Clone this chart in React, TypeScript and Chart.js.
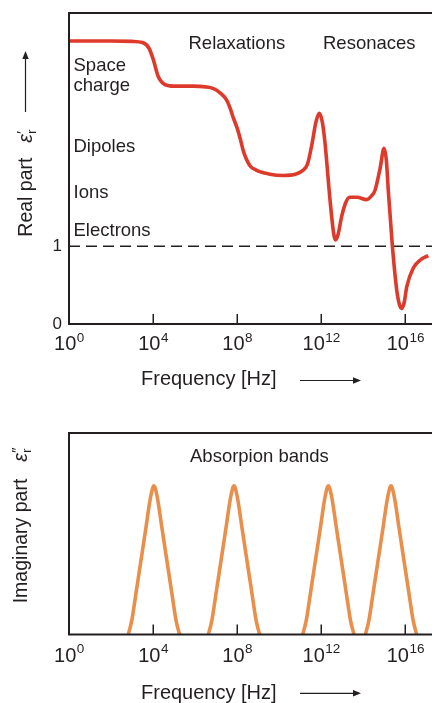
import React, { useEffect, useRef } from "react";
import { Chart, registerables } from "chart.js";

Chart.register(...registerables);

// ---------- data ----------
// x values are log10(frequency / Hz)
const X_MIN = 0;
const X_MAX = 17.27;
const xTickExponents = [0, 4, 8, 12, 16];
const realYTicks = [0, 1];
const REAL_Y_MAX = 4;
const IMAG_Y_MAX = 1;

const realLogF = [
  0, 1, 2, 3, 3.5, 3.8, 4.0, 4.25, 4.57, 5.0, 5.9, 6.5, 6.85, 7.2, 7.5, 7.66, 7.82, 8.0, 8.15, 8.3,
  8.6, 8.9, 9.5, 10.2, 10.8, 11.15, 11.35, 11.55, 11.75, 11.91, 12.05, 12.18, 12.42, 12.6, 12.69,
  12.8, 12.97, 13.15, 13.35, 13.7, 14.16, 14.4, 14.56, 14.8, 14.99, 15.1, 15.19, 15.38, 15.59,
  15.72, 15.83, 15.95, 16.07, 16.38, 16.7, 17.09,
];
const realEps = [
  3.64, 3.64, 3.64, 3.635, 3.62, 3.55, 3.41, 3.18, 3.08, 3.06, 3.06, 3.05, 3.03, 2.97, 2.88, 2.78,
  2.65, 2.52, 2.38, 2.22, 2.04, 1.98, 1.93, 1.91, 1.93, 1.98, 2.06, 2.3, 2.6, 2.71, 2.6, 2.33, 1.59,
  1.15, 1.08, 1.15, 1.38, 1.55, 1.63, 1.63, 1.6, 1.65, 1.72, 2.0, 2.26, 2.1, 1.72, 1.02, 0.44, 0.25,
  0.2, 0.28, 0.48, 0.72, 0.82, 0.88,
];
const unityLevel = 1;

const peakCenters = [4.04, 7.85, 12.34, 15.32];
const peakOffsets = [
  -1.22, -1.06, -0.86, -0.62, -0.38, -0.19, -0.09, -0.04, 0, 0.04, 0.09, 0.19, 0.38, 0.62, 0.86, 1.06, 1.22,
];
const peakHeights = [
  0, 0.066, 0.2, 0.365, 0.53, 0.664, 0.715, 0.732, 0.738, 0.732, 0.715, 0.664, 0.53, 0.365, 0.2, 0.066, 0,
];

const realLabels = ["Space", "charge", "Dipoles", "Ions", "Electrons"];
const regionLabels = ["Relaxations", "Resonaces"];
const imagLabel = "Absorpion bands";
const xTitle = "Frequency [Hz]";

// ---------- styles ----------
const FONT = '"Liberation Sans", Arial, Helvetica, sans-serif';
const INK = "#231f20";
const RED = "#de3a2b";
const ORANGE = "#e98f4b";

function arrowRight(ctx: CanvasRenderingContext2D, x0: number, x1: number, y: number) {
  ctx.save();
  ctx.strokeStyle = INK;
  ctx.fillStyle = INK;
  ctx.lineWidth = 1.2;
  ctx.beginPath();
  ctx.moveTo(x0, y);
  ctx.lineTo(x1 - 6, y);
  ctx.stroke();
  ctx.beginPath();
  ctx.moveTo(x1, y);
  ctx.lineTo(x1 - 8, y - 3.2);
  ctx.lineTo(x1 - 8, y + 3.2);
  ctx.closePath();
  ctx.fill();
  ctx.restore();
}

function arrowUp(ctx: CanvasRenderingContext2D, x: number, y0: number, y1: number) {
  ctx.save();
  ctx.strokeStyle = INK;
  ctx.fillStyle = INK;
  ctx.lineWidth = 1.2;
  ctx.beginPath();
  ctx.moveTo(x, y0);
  ctx.lineTo(x, y1 + 6);
  ctx.stroke();
  ctx.beginPath();
  ctx.moveTo(x, y1);
  ctx.lineTo(x - 3.2, y1 + 8);
  ctx.lineTo(x + 3.2, y1 + 8);
  ctx.closePath();
  ctx.fill();
  ctx.restore();
}

function drawFrame(chart: any) {
  const ctx: CanvasRenderingContext2D = chart.ctx;
  const a = chart.chartArea;
  ctx.save();
  ctx.strokeStyle = INK;
  ctx.lineWidth = 2;
  ctx.beginPath();
  ctx.moveTo(chart.width, a.top);
  ctx.lineTo(a.left, a.top);
  ctx.lineTo(a.left, a.bottom);
  ctx.lineTo(chart.width, a.bottom);
  ctx.stroke();
  // inward ticks
  ctx.lineWidth = 1.5;
  const xs = chart.scales.x;
  xTickExponents.forEach((t) => {
    if (t === 0) return;
    const px = Math.round(xs.getPixelForValue(t)) + 0.25;
    ctx.beginPath();
    ctx.moveTo(px, a.bottom);
    ctx.lineTo(px, a.bottom - 10);
    ctx.stroke();
  });
  ctx.restore();
}

function drawXTickLabels(chart: any, baseline: number) {
  const ctx: CanvasRenderingContext2D = chart.ctx;
  const xs = chart.scales.x;
  ctx.save();
  ctx.fillStyle = INK;
  ctx.textAlign = "left";
  ctx.textBaseline = "alphabetic";
  xTickExponents.forEach((t) => {
    const px = xs.getPixelForValue(t);
    ctx.font = `20px ${FONT}`;
    const w1 = ctx.measureText("10").width;
    ctx.font = `13.5px ${FONT}`;
    const sup = String(t);
    const w2 = ctx.measureText(sup).width;
    const left = px - (w1 + w2) / 2;
    ctx.font = `20px ${FONT}`;
    ctx.fillText("10", left, baseline);
    ctx.font = `13.5px ${FONT}`;
    ctx.fillText(sup, left + w1 + 0.5, baseline - 8.5);
  });
  ctx.restore();
}

function drawXTitle(chart: any, baseline: number, arrowY: number) {
  const ctx: CanvasRenderingContext2D = chart.ctx;
  ctx.save();
  ctx.fillStyle = INK;
  ctx.font = `20px ${FONT}`;
  ctx.textAlign = "left";
  ctx.textBaseline = "alphabetic";
  ctx.fillText(xTitle, 141, baseline);
  ctx.restore();
  arrowRight(ctx, 300, 361, arrowY);
}

function drawYTitle(
  ctx: CanvasRenderingContext2D,
  x: number,
  y: number,
  text: string,
  epsOffset: number,
  prime: string
) {
  ctx.save();
  ctx.translate(x, y);
  ctx.rotate(-Math.PI / 2);
  ctx.fillStyle = INK;
  ctx.textAlign = "left";
  ctx.textBaseline = "alphabetic";
  ctx.font = `19.5px ${FONT}`;
  ctx.fillText(text, 0, 0);
  ctx.font = `italic 19.5px ${FONT}`;
  ctx.fillText("\u03b5", epsOffset, 0);
  const we = ctx.measureText("\u03b5").width;
  ctx.font = `15px ${FONT}`;
  ctx.fillText(prime, epsOffset + we + 0.5, -5);
  ctx.font = `12.5px ${FONT}`;
  ctx.fillText("r", epsOffset + we + 0.5, 4.5);
  ctx.restore();
}

const realDecor = {
  id: "realDecor",
  afterDatasetsDraw(chart: any) {
    const ctx: CanvasRenderingContext2D = chart.ctx;
    drawFrame(chart);
    drawXTickLabels(chart, 350);
    drawXTitle(chart, 384.5, 380.5);
    const ys = chart.scales.y;
    ctx.save();
    ctx.fillStyle = INK;
    ctx.font = `17px ${FONT}`;
    ctx.textAlign = "right";
    ctx.textBaseline = "middle";
    realYTicks.forEach((v) => {
      ctx.fillText(String(v), 62, ys.getPixelForValue(v) + 0.5);
    });
    ctx.font = `18.5px ${FONT}`;
    ctx.textAlign = "left";
    ctx.textBaseline = "alphabetic";
    const lx = 73.5;
    ctx.fillText(realLabels[0], lx, 71);
    ctx.fillText(realLabels[1], lx, 91);
    ctx.fillText(realLabels[2], lx, 152);
    ctx.fillText(realLabels[3], lx, 197.5);
    ctx.fillText(realLabels[4], lx, 235.5);
    ctx.fillText(regionLabels[0], 188.5, 48.5);
    ctx.fillText(regionLabels[1], 323, 48.5);
    ctx.restore();
    drawYTitle(ctx, 31.7, 236.7, "Real part", 94, "\u2032");
    arrowUp(ctx, 25.5, 112, 51);
  },
};

const imagDecor = {
  id: "imagDecor",
  afterDatasetsDraw(chart: any) {
    const ctx: CanvasRenderingContext2D = chart.ctx;
    drawFrame(chart);
    drawXTickLabels(chart, 266.5);
    drawXTitle(chart, 304.3, 298.3);
    ctx.save();
    ctx.fillStyle = INK;
    ctx.font = `18.5px ${FONT}`;
    ctx.textAlign = "left";
    ctx.textBaseline = "alphabetic";
    ctx.fillText(imagLabel, 190, 67);
    ctx.restore();
    drawYTitle(ctx, 26.5, 208.3, "Imaginary part", 141.5, "\u2033");
  },
};

function baseScales(yMax: number) {
  return {
    x: { type: "linear" as const, min: X_MIN, max: X_MAX, display: false },
    y: { type: "linear" as const, min: 0, max: yMax, display: false },
  };
}

export default function App() {
  const topRef = useRef<HTMLCanvasElement>(null);
  const botRef = useRef<HTMLCanvasElement>(null);

  useEffect(() => {
    const realPoints = realLogF.map((x, i) => ({ x, y: realEps[i] }));
    const top = new Chart(topRef.current!, {
      type: "line",
      data: {
        datasets: [
          {
            data: realPoints,
            borderColor: RED,
            borderWidth: 3.6,
            pointRadius: 0,
            cubicInterpolationMode: "monotone",
            fill: false,
          },
          {
            data: [
              { x: X_MIN, y: unityLevel },
              { x: X_MAX, y: unityLevel },
            ],
            borderColor: INK,
            borderWidth: 1.3,
            borderDash: [11, 6],
            pointRadius: 0,
            fill: false,
          },
        ],
      },
      options: {
        responsive: false,
        animation: false,
        devicePixelRatio: 1,
        layout: { padding: { left: 69, top: 13, right: 0, bottom: 71 } },
        scales: baseScales(REAL_Y_MAX),
        plugins: { legend: { display: false }, tooltip: { enabled: false }, title: { display: false } },
        events: [],
      },
      plugins: [realDecor],
    } as any);

    const bot = new Chart(botRef.current!, {
      type: "line",
      data: {
        datasets: peakCenters.map((c) => ({
          data: peakOffsets.map((o, i) => ({ x: c + o, y: peakHeights[i] })),
          borderColor: ORANGE,
          borderWidth: 3.6,
          pointRadius: 0,
          cubicInterpolationMode: "monotone",
          fill: false,
        })),
      },
      options: {
        responsive: false,
        animation: false,
        devicePixelRatio: 1,
        layout: { padding: { left: 69, top: 38, right: 0, bottom: 68.5 } },
        scales: baseScales(IMAG_Y_MAX),
        plugins: { legend: { display: false }, tooltip: { enabled: false }, title: { display: false } },
        events: [],
      },
      plugins: [imagDecor],
    } as any);

    return () => {
      top.destroy();
      bot.destroy();
    };
  }, []);

  return (
    <div style={{ position: "fixed", left: 0, top: 0, width: 432, height: 703, background: "#fff" }}>
      <canvas
        ref={topRef}
        width={432}
        height={395}
        style={{ position: "absolute", left: 0, top: 0, width: 432, height: 395 }}
      />
      <canvas
        ref={botRef}
        width={432}
        height={308}
        style={{ position: "absolute", left: 0, top: 395, width: 432, height: 308 }}
      />
    </div>
  );
}
